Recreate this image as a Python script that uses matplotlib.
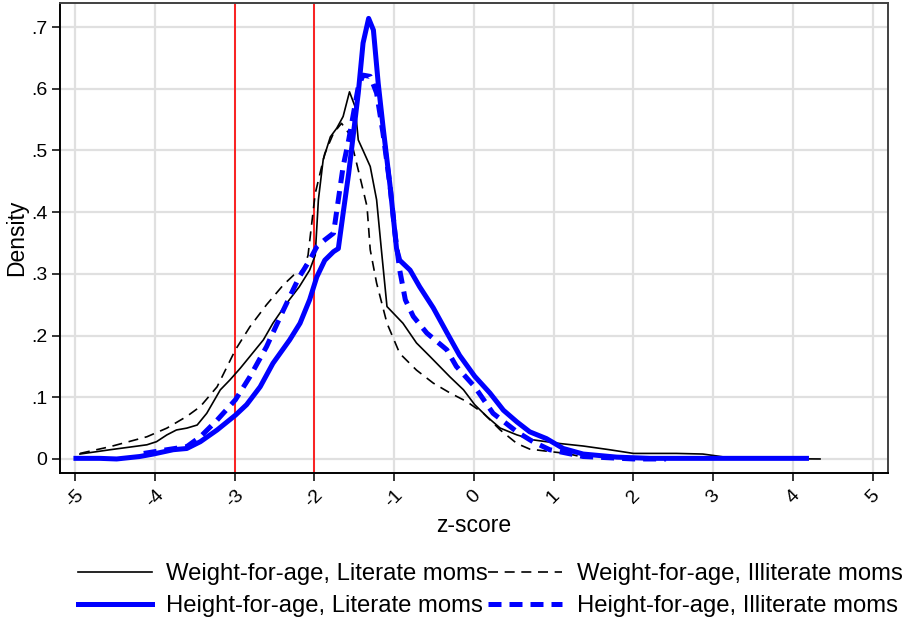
import numpy as np
import matplotlib.pyplot as plt

plt.rcParams['font.family'] = ['Liberation Sans', 'DejaVu Sans']

# Weight-for-age, literate moms (thin solid black)
wl_x = [-4.94, -4.56, -4.27, -4.10, -3.98, -3.85, -3.73, -3.60, -3.47, -3.35, -3.18, -3.06,
        -2.93, -2.81, -2.64, -2.52, -2.35, -2.19, -2.06, -1.99, -1.95, -1.89, -1.80, -1.72,
        -1.64, -1.56, -1.49, -1.45, -1.39, -1.30, -1.22, -1.16, -1.09, -0.89, -0.72, -0.55,
        -0.30, -0.13, 0.01, 0.16, 0.33, 0.54, 0.74, 1.08, 1.37, 1.70, 2.00, 2.54, 2.87,
        3.04, 3.25, 4.34]
wl_y = [0.008, 0.015, 0.020, 0.023, 0.028, 0.039, 0.047, 0.050, 0.055, 0.074, 0.112, 0.128,
        0.147, 0.166, 0.193, 0.220, 0.252, 0.279, 0.306, 0.330, 0.420, 0.485, 0.522, 0.536,
        0.555, 0.595, 0.571, 0.517, 0.500, 0.474, 0.420, 0.339, 0.247, 0.220, 0.188, 0.166,
        0.133, 0.112, 0.088, 0.069, 0.050, 0.039, 0.031, 0.025, 0.021, 0.015, 0.009, 0.009, 0.008,
        0.005, 0.001, 0.0]

# Weight-for-age, illiterate moms (thin dashed black)
wi_x = [-4.94, -4.56, -4.10, -3.85, -3.60, -3.43, -3.22, -2.99, -2.81, -2.60, -2.39, -2.26,
        -2.14, -2.08, -1.99, -1.87, -1.76, -1.66, -1.57, -1.51, -1.41, -1.34, -1.30, -1.22,
        -1.09, -0.93, -0.72, -0.51, -0.30, -0.09, 0.12, 0.33, 0.54, 0.70, 0.95, 1.16, 1.30]
wi_y = [0.009, 0.020, 0.036, 0.050, 0.069, 0.085, 0.117, 0.177, 0.214, 0.250, 0.282, 0.298,
        0.306, 0.330, 0.430, 0.495, 0.528, 0.544, 0.528, 0.500, 0.447, 0.409, 0.339, 0.285,
        0.220, 0.171, 0.144, 0.123, 0.107, 0.093, 0.074, 0.047, 0.025, 0.016, 0.012, 0.009, 0.005]

# Height-for-age, literate moms (thick solid blue)
hl_x = [-4.99, -4.69, -4.48, -4.19, -4.02, -3.77, -3.60, -3.43, -3.22, -2.99, -2.85, -2.68,
        -2.52, -2.31, -2.18, -2.06, -1.97, -1.87, -1.76, -1.70, -1.64, -1.57, -1.51, -1.45,
        -1.39, -1.32, -1.26, -1.20, -1.14, -1.05, -0.97, -0.93, -0.80, -0.68, -0.51, -0.34,
        -0.18, 0.01, 0.20, 0.37, 0.54, 0.70, 0.91, 1.12, 1.37, 1.79, 2.21, 4.17]
hl_y = [0.001, 0.001, 0.0, 0.004, 0.008, 0.015, 0.017, 0.028, 0.047, 0.071, 0.088, 0.117,
        0.155, 0.193, 0.220, 0.258, 0.295, 0.322, 0.336, 0.341, 0.398, 0.463, 0.528, 0.593,
        0.674, 0.714, 0.695, 0.609, 0.539, 0.441, 0.341, 0.322, 0.306, 0.279, 0.245, 0.205,
        0.168, 0.134, 0.107, 0.079, 0.060, 0.044, 0.033, 0.017, 0.008, 0.003, 0.001, 0.001]

# Height-for-age, illiterate moms (thick dashed blue)
hi_x = [-4.14, -3.85, -3.60, -3.43, -3.22, -2.99, -2.81, -2.60, -2.39, -2.19, -2.06, -1.97,
        -1.87, -1.76, -1.70, -1.64, -1.57, -1.51, -1.45, -1.39, -1.30, -1.22, -1.14, -1.05,
        -0.99, -0.93, -0.86, -0.76, -0.59, -0.34, -0.22, 0.01, 0.24, 0.54, 0.74, 0.95, 1.37,
        2.00, 2.41]
hi_y = [0.009, 0.015, 0.020, 0.036, 0.063, 0.096, 0.133, 0.182, 0.241, 0.295, 0.322, 0.344,
        0.355, 0.366, 0.420, 0.474, 0.517, 0.560, 0.603, 0.622, 0.620, 0.593, 0.528, 0.441,
        0.366, 0.306, 0.258, 0.231, 0.204, 0.177, 0.150, 0.117, 0.074, 0.044, 0.028, 0.015, 0.004,
        0.0, 0.0]

cutoffs = [-3, -2]
xticks = np.arange(-5, 6)
yticks = np.arange(0, 0.8, 0.1)
ylabels = ['0', '.1', '.2', '.3', '.4', '.5', '.6', '.7']

fig = plt.figure(figsize=(9.05, 6.19), dpi=100)
ax = fig.add_axes([0.0663, 0.2359, 0.9147, 0.7593])

for c in cutoffs:
    ax.axvline(c, color='red', lw=1.2, zorder=2)

l1, = ax.plot(wl_x, wl_y, color='black', lw=1.2, zorder=3, label='Weight-for-age, Literate moms')
l2, = ax.plot(wi_x, wi_y, color='black', lw=1.2, ls=(0, (6.0, 4.0)), zorder=3,
              label='Weight-for-age, Illiterate moms')
l3, = ax.plot(hl_x, hl_y, color='#0000ff', lw=3.6, zorder=4, label='Height-for-age, Literate moms')
l4, = ax.plot(hi_x, hi_y, color='#0000ff', lw=3.6, ls=(0, (2.6, 1.6)), zorder=5,
              label='Height-for-age, Illiterate moms')

ax.set_xlim(-5.19, 5.19)
ax.set_ylim(-0.0227, 0.739)
ax.set_xticks(xticks)
ax.set_xticklabels([str(v) for v in xticks], rotation=45, ha='center', va='top')
ax.set_yticks(yticks)
ax.set_yticklabels(ylabels)
ax.tick_params(axis='both', direction='out', length=6, width=1.1, labelsize=14, pad=3)
ax.tick_params(axis='x', pad=4)
ax.grid(True, color='#e0e0e0', lw=1.6, zorder=0)
ax.set_axisbelow(True)

for s in ['left', 'bottom']:
    ax.spines[s].set_color('black')
    ax.spines[s].set_linewidth(1.4)
for s in ['top', 'right']:
    ax.spines[s].set_color('#404040')
    ax.spines[s].set_linewidth(1.4)

ax.set_xlabel('z-score', fontsize=16.5, labelpad=2)
ax.set_ylabel('Density', fontsize=16.5, labelpad=2)

fig.legend(handles=[l1, l3, l2, l4], ncol=2, loc='center left',
           bbox_to_anchor=(0.0862, 0.0465), frameon=False, fontsize=17.2,
           handlelength=3.1, handletextpad=0.6, columnspacing=0.0,
           labelspacing=0.4, borderpad=0, borderaxespad=0)

fig.savefig('out.png', dpi=100)
